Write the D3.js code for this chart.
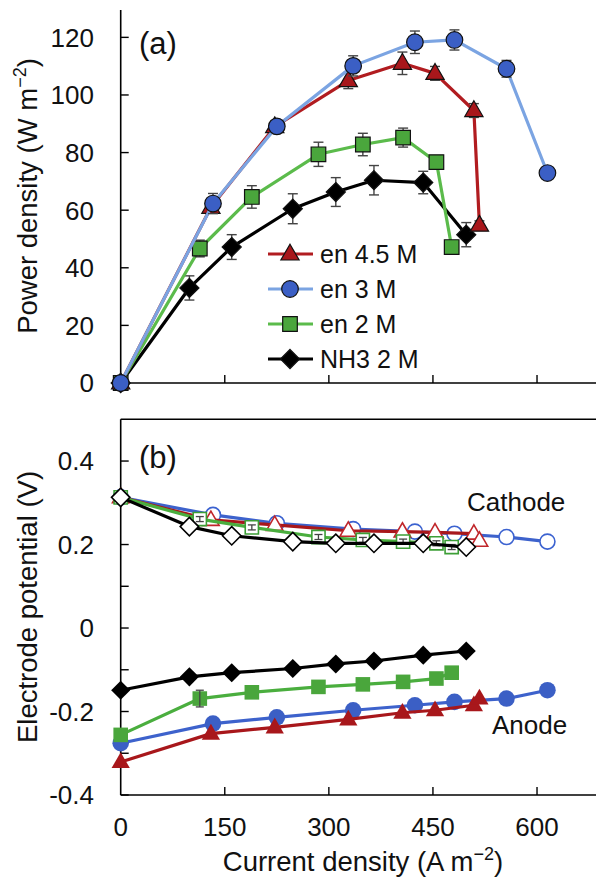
<!DOCTYPE html>
<html><head><meta charset="utf-8">
<script src="https://cdn.jsdelivr.net/npm/d3@7"></script>
<style>html,body{margin:0;padding:0;background:#fff;}svg{display:block;font-family:"Liberation Sans",Arial,sans-serif;}</style>
</head><body>
<svg id="chart" width="596" height="881"></svg>
<script>
// ---------- data ----------
const xTicks = [0, 150, 300, 450, 600];
const yTicksA = [0, 20, 40, 60, 80, 100, 120];
const yTicksB = [-0.4, -0.2, 0, 0.2, 0.4];
const yMinorB = [-0.4, -0.3, -0.2, -0.1, 0, 0.1, 0.2, 0.3, 0.4];

const seriesNames = ["en 4.5 M", "en 3 M", "en 2 M", "NH3 2 M"];

const current45 = [0, 130, 222, 328, 406, 453, 509, 517];
const power45 = [0, 61, 89, 105, 111, 107.5, 94.6, 54.8];
const errP45 = [0, 1.5, 1, 2.8, 3.9, 2.4, 2.4, 1.5];
const cathode45 = [0.313, 0.259, 0.247, 0.233, 0.231, 0.229, 0.226, 0.209];
const anode45 = [-0.321, -0.253, -0.238, -0.219, -0.203, -0.197, -0.185, -0.169];

const current3 = [0, 133, 225, 335, 424, 481, 556, 615];
const power3 = [0, 62.3, 89.1, 110.1, 118.3, 119.1, 109.1, 72.9];
const errP3 = [0, 3.5, 1.2, 3.5, 3.9, 3.5, 2.9, 0.5];
const cathode3 = [0.313, 0.271, 0.251, 0.237, 0.231, 0.226, 0.218, 0.207];
const anode3 = [-0.276, -0.229, -0.214, -0.197, -0.185, -0.177, -0.169, -0.149];

const current2 = [0, 114, 189, 285, 349, 407, 455, 477];
const power2 = [0, 46.7, 64.6, 79.4, 82.8, 85.2, 76.7, 47.2];
const errP2 = [0, 2.9, 3.9, 4.2, 3.9, 3.3, 1, 1];
const cathode2 = [0.313, 0.261, 0.241, 0.218, 0.211, 0.207, 0.203, 0.194];
const errC2 = [0, 0.006, 0.006, 0.006, 0.006, 0.006, 0.006, 0.006];
const anode2 = [-0.256, -0.169, -0.154, -0.141, -0.135, -0.129, -0.121, -0.107];
const errA2 = [0, 0.02, 0, 0, 0, 0, 0, 0];

const currentNH3 = [0, 99, 160, 248, 310, 365, 436, 498];
const powerNH3 = [0, 33, 47.2, 60.5, 66.3, 70.4, 69.6, 51.5];
const errPNH3 = [0, 4.2, 4.3, 5.2, 5, 5.1, 3.9, 4.2];
const cathodeNH3 = [0.313, 0.243, 0.221, 0.207, 0.203, 0.203, 0.203, 0.194];
const anodeNH3 = [-0.149, -0.117, -0.107, -0.097, -0.086, -0.079, -0.065, -0.055];

// ---------- styles ----------
const styles = {
  "en 4.5 M": {shape: "triangle", fill: "#A8171B", lineA: "#B11C20", lineB: "#A8171B", open: "#C0262A"},
  "en 3 M":   {shape: "circle",   fill: "#3B5FC5", lineA: "#7BA4E2", lineB: "#3D62CC", open: "#3B62D0"},
  "en 2 M":   {shape: "square",   fill: "#4AA63C", lineA: "#5BBB4B", lineB: "#4AAE3E", open: "#3C9E36"},
  "NH3 2 M":  {shape: "diamond",  fill: "#000000", lineA: "#000000", lineB: "#000000", open: "#000000"}
};

const series = [
  {name: "en 4.5 M", x: current45, p: power45, ep: errP45, c: cathode45, ec: null, a: anode45, ea: null},
  {name: "en 3 M", x: current3, p: power3, ep: errP3, c: cathode3, ec: null, a: anode3, ea: null},
  {name: "en 2 M", x: current2, p: power2, ep: errP2, c: cathode2, ec: errC2, a: anode2, ea: errA2},
  {name: "NH3 2 M", x: currentNH3, p: powerNH3, ep: errPNH3, c: cathodeNH3, ec: null, a: anodeNH3, ea: null}
];

// ---------- layout ----------
const svg = d3.select("#chart");
const X0 = 120.7, X1 = 596;
const x = d3.scaleLinear().domain([0, 685]).range([X0, X1]);
const yA = d3.scaleLinear().domain([0, 129.5]).range([383, 10]);
const yB = d3.scaleLinear().domain([-0.4, 0.5]).range([795, 419.3]);
const TICK_FS = 26, TITLE_FS = 27.5;

function markerPath(shape, s) {
  const p = d3.path();
  if (shape === "circle") { p.arc(0, 0, s, 0, 2 * Math.PI); p.closePath(); }
  else if (shape === "square") { const h = s * 0.88; p.rect(-h, -h, 2 * h, 2 * h); }
  else if (shape === "triangle") {
    const side = s * 2.2, ht = side * 0.866;
    p.moveTo(0, -ht * 0.62); p.lineTo(side / 2, ht * 0.38); p.lineTo(-side / 2, ht * 0.38); p.closePath();
  } else if (shape === "diamond") {
    const h = s * 1.15; p.moveTo(0, -h); p.lineTo(h, 0); p.lineTo(0, h); p.lineTo(-h, 0); p.closePath();
  }
  return p.toString();
}

function drawAxes(yScale, ticks, minor, fmt, yTop) {
  const g = svg.append("g");
  g.append("line").attr("x1", X0).attr("x2", X0).attr("y1", yTop).attr("y2", yScale.range()[0])
    .attr("stroke", "#000").attr("stroke-width", 1.6);
  const yb = yScale.range()[0];
  g.append("line").attr("x1", X0).attr("x2", X1).attr("y1", yb).attr("y2", yb)
    .attr("stroke", "#000").attr("stroke-width", 1.6);
  g.selectAll(".yt").data(minor).enter().append("line")
    .attr("x1", X0).attr("x2", X0 + 8).attr("y1", d => yScale(d)).attr("y2", d => yScale(d))
    .attr("stroke", "#000").attr("stroke-width", 1.4);
  g.selectAll(".yl").data(ticks).enter().append("text")
    .attr("x", 94).attr("y", d => yScale(d)).attr("dy", "0.36em")
    .attr("text-anchor", "end").attr("font-size", TICK_FS).attr("fill", "#111").text(fmt);
  g.selectAll(".xt").data(xTicks.filter(d => d > 0)).enter().append("line")
    .attr("x1", d => x(d)).attr("x2", d => x(d)).attr("y1", yb).attr("y2", yb - 8)
    .attr("stroke", "#000").attr("stroke-width", 1.4);
}

drawAxes(yA, yTicksA, yTicksA, d => String(d), 10);
drawAxes(yB, yTicksB, yMinorB, d => d === 0 ? "0" : d.toFixed(1), 419.3);
svg.append("line").attr("x1", X0).attr("x2", X1).attr("y1", 419.3).attr("y2", 419.3)
  .attr("stroke", "#000").attr("stroke-width", 1.6);

svg.selectAll(".xl").data(xTicks).enter().append("text")
  .attr("x", d => x(d)).attr("y", 827).attr("dy", "0.36em").attr("text-anchor", "middle")
  .attr("font-size", TICK_FS).attr("fill", "#111").text(d => d);

function supTitle(sel, main, sup, tail) {
  sel.append("tspan").text(main);
  sel.append("tspan").attr("font-size", 18).attr("dy", -11).text(sup);
  sel.append("tspan").attr("dy", 11).text(tail);
}
const tA = svg.append("text").attr("transform", "translate(37,196) rotate(-90)")
  .attr("text-anchor", "middle").attr("font-size", TITLE_FS).attr("fill", "#111");
supTitle(tA, "Power density (W m", "−2", ")");
svg.append("text").attr("transform", "translate(37,607) rotate(-90)")
  .attr("text-anchor", "middle").attr("font-size", TITLE_FS).attr("fill", "#111").text("Electrode potential (V)");
const tX = svg.append("text").attr("x", 363).attr("y", 871)
  .attr("text-anchor", "middle").attr("font-size", TITLE_FS).attr("fill", "#111");
supTitle(tX, "Current density (A m", "−2", ")");

svg.append("text").attr("x", 139).attr("y", 54).attr("font-size", 31).attr("fill", "#111").text("(a)");
svg.append("text").attr("x", 139).attr("y", 468).attr("font-size", 31).attr("fill", "#111").text("(b)");
svg.append("text").attr("x", 467).attr("y", 511).attr("font-size", 26).attr("fill", "#111").text("Cathode");
svg.append("text").attr("x", 492).attr("y", 734).attr("font-size", 26).attr("fill", "#111").text("Anode");

// ---------- panel a ----------
const drawOrderA = ["NH3 2 M", "en 2 M", "en 4.5 M", "en 3 M"];
const line = (yScale) => d3.line().x(d => x(d[0])).y(d => yScale(d[1]));
drawOrderA.forEach(name => {
  const s = series.find(d => d.name === name), st = styles[name];
  const pts = s.x.map((v, i) => [v, s.p[i], s.ep[i]]);
  const g = svg.append("g");
  g.append("path").attr("d", line(yA)(pts)).attr("fill", "none")
    .attr("stroke", st.lineA).attr("stroke-width", 3.2).attr("stroke-linejoin", "round");
  pts.forEach(p => {
    if (p[2] > 0.6) {
      const y1 = yA(p[1] + p[2]), y2 = yA(p[1] - p[2]), cx = x(p[0]);
      g.append("line").attr("x1", cx).attr("x2", cx).attr("y1", y1).attr("y2", y2).attr("stroke", "#444").attr("stroke-width", 1.4);
      [y1, y2].forEach(yy => g.append("line").attr("x1", cx - 5).attr("x2", cx + 5).attr("y1", yy).attr("y2", yy).attr("stroke", "#444").attr("stroke-width", 1.4));
    }
  });
  g.selectAll("path.m").data(pts).enter().append("path").attr("class", "m")
    .attr("transform", d => `translate(${x(d[0])},${yA(d[1])})`)
    .attr("d", markerPath(st.shape, 8.3))
    .attr("fill", st.fill).attr("stroke", "#111").attr("stroke-width", 1.2);
});

// legend
const legY = [254, 289, 324, 359];
seriesNames.forEach((name, i) => {
  const st = styles[name];
  const g = svg.append("g");
  g.append("line").attr("x1", 268).attr("x2", 313).attr("y1", legY[i]).attr("y2", legY[i])
    .attr("stroke", st.lineA).attr("stroke-width", 3.2);
  g.append("path").attr("transform", `translate(290,${legY[i]})`).attr("d", markerPath(st.shape, 8.3))
    .attr("fill", st.fill).attr("stroke", "#111").attr("stroke-width", 1.2);
  g.append("text").attr("x", 320).attr("y", legY[i]).attr("dy", "0.36em")
    .attr("font-size", 25).attr("fill", "#111").text(name);
});

// ---------- panel b ----------
const drawOrderB = ["en 3 M", "en 4.5 M", "en 2 M", "NH3 2 M"];
function drawB(name, key, ekey, open) {
  const s = series.find(d => d.name === name), st = styles[name];
  const vals = s[key], errs = s[ekey];
  const pts = s.x.map((v, i) => [v, vals[i], errs ? errs[i] : 0]);
  const g = svg.append("g");
  g.append("path").attr("d", line(yB)(pts)).attr("fill", "none")
    .attr("stroke", st.lineB).attr("stroke-width", 3.2).attr("stroke-linejoin", "round");
  const m = g.selectAll("path.m").data(pts).enter().append("path").attr("class", "m")
    .attr("transform", d => `translate(${x(d[0])},${yB(d[1])})`);
  if (open) {
    m.attr("d", markerPath(st.shape, st.shape === "diamond" ? 8 : 7.5))
      .attr("fill", "#fff").attr("stroke", st.open).attr("stroke-width", 1.6);
  } else {
    m.attr("d", markerPath(st.shape, 8.3)).attr("fill", st.fill).attr("stroke", "none");
  }
  pts.forEach(p => {
    if (p[2] > 0) {
      const y1 = yB(p[1] + p[2]), y2 = yB(p[1] - p[2]), cx = x(p[0]);
      g.append("line").attr("x1", cx).attr("x2", cx).attr("y1", y1).attr("y2", y2).attr("stroke", "#444").attr("stroke-width", 1.3);
      [y1, y2].forEach(yy => g.append("line").attr("x1", cx - 4).attr("x2", cx + 4).attr("y1", yy).attr("y2", yy).attr("stroke", "#444").attr("stroke-width", 1.3));
    }
  });
}
drawOrderB.forEach(n => drawB(n, "c", "ec", true));
drawOrderB.forEach(n => drawB(n, "a", "ea", false));
</script>
</body></html>
